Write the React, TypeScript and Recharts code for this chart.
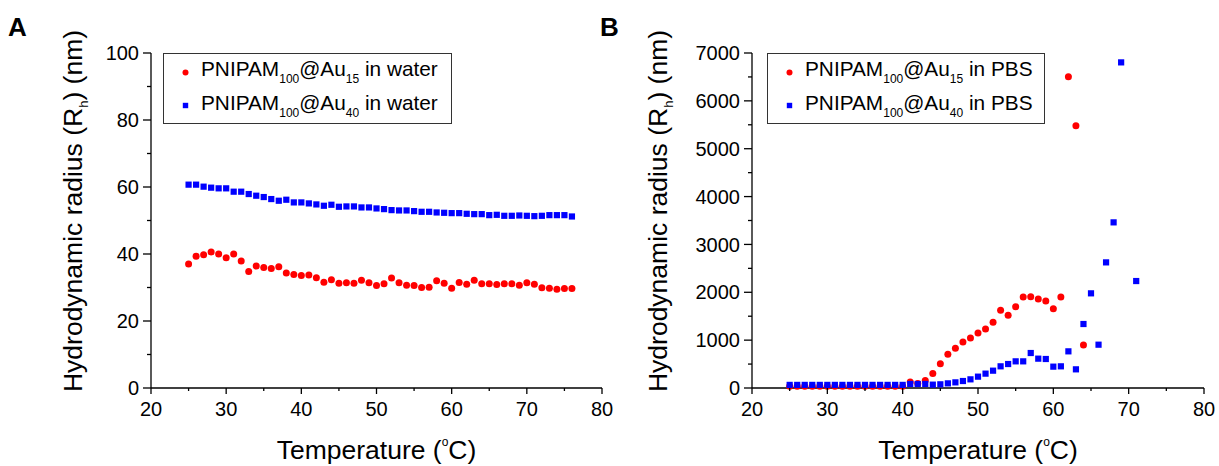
import React from 'react';
import { ScatterChart, Scatter, XAxis, YAxis, Legend } from 'recharts';

// ---------- data ----------
const tempWater = [25, 26, 27, 28, 29, 30, 31, 32, 33, 34, 35, 36, 37, 38, 39, 40, 41, 42, 43, 44, 45, 46, 47, 48, 49, 50, 51, 52, 53, 54, 55, 56, 57, 58, 59, 60, 61, 62, 63, 64, 65, 66, 67, 68, 69, 70, 71, 72, 73, 74, 75, 76];
const rhWaterAu15 = [37.0, 39.3, 39.8, 40.6, 40.0, 38.9, 40.0, 37.9, 34.8, 36.4, 36.0, 35.7, 36.2, 34.3, 33.9, 33.6, 33.7, 32.9, 31.6, 32.3, 31.3, 31.4, 31.3, 32.2, 31.4, 30.6, 31.1, 32.8, 31.4, 30.7, 30.6, 30.0, 30.1, 32.0, 31.3, 29.8, 31.5, 31.0, 32.2, 31.1, 31.1, 30.9, 31.1, 31.1, 30.7, 31.4, 31.0, 29.9, 29.8, 29.5, 29.7, 29.7];
const rhWaterAu40 = [60.7, 60.7, 60.1, 59.8, 59.6, 59.6, 58.6, 58.6, 57.9, 57.4, 57.0, 56.4, 55.9, 56.2, 55.4, 55.4, 55.1, 54.8, 54.4, 54.7, 54.1, 54.2, 54.2, 53.9, 53.9, 53.6, 53.4, 53.1, 53.0, 53.0, 52.8, 52.6, 52.6, 52.4, 52.3, 52.2, 52.2, 52.0, 51.9, 51.9, 51.6, 51.7, 51.4, 51.4, 51.5, 51.4, 51.3, 51.4, 51.6, 51.6, 51.6, 51.2];

const tempPbsAu15 = [25, 26, 27, 28, 29, 30, 31, 32, 33, 34, 35, 36, 37, 38, 39, 40, 41, 42, 43, 44, 45, 46, 47, 48, 49, 50, 51, 52, 53, 54, 55, 56, 57, 58, 59, 60, 61, 62, 63, 64];
const rhPbsAu15 = [35, 35, 35, 35, 35, 35, 35, 35, 35, 35, 35, 35, 35, 35, 35, 35, 125, 96, 159, 305, 508, 703, 829, 961, 1045, 1149, 1233, 1372, 1623, 1518, 1699, 1901, 1908, 1859, 1818, 1657, 1901, 6504, 5481, 898];

const tempPbsAu40 = [25, 26, 27, 28, 29, 30, 31, 32, 33, 34, 35, 36, 37, 38, 39, 40, 41, 42, 43, 44, 45, 46, 47, 48, 49, 50, 51, 52, 53, 54, 55, 56, 57, 58, 59, 60, 61, 62, 63, 64, 65, 66, 67, 68, 69, 71];
const rhPbsAu40 = [65, 65, 65, 65, 65, 65, 65, 65, 65, 65, 65, 65, 65, 65, 65, 65, 84, 84, 84, 70, 77, 97, 118, 146, 181, 237, 300, 362, 453, 501, 557, 557, 731, 613, 606, 446, 453, 766, 390, 1337, 1978, 905, 2625, 3461, 6804, 2235];

const xTicks = [20, 25, 30, 35, 40, 45, 50, 55, 60, 65, 70, 75, 80];
const yTicksWater = [0, 10, 20, 30, 40, 50, 60, 70, 80, 90, 100];
const yTicksPbs = [0, 500, 1000, 1500, 2000, 2500, 3000, 3500, 4000, 4500, 5000, 5500, 6000, 6500, 7000];

const legendWater = [
  { base: 'PNIPAM', sub1: '100', mid: '@Au', sub2: '15', tail: ' in water', color: '#ff0000', shape: 'circle' },
  { base: 'PNIPAM', sub1: '100', mid: '@Au', sub2: '40', tail: ' in water', color: '#0000ff', shape: 'square' },
];
const legendPbs = [
  { base: 'PNIPAM', sub1: '100', mid: '@Au', sub2: '15', tail: ' in PBS', color: '#ff0000', shape: 'circle' },
  { base: 'PNIPAM', sub1: '100', mid: '@Au', sub2: '40', tail: ' in PBS', color: '#0000ff', shape: 'square' },
];

// ---------- helpers ----------
const FONT = '"Liberation Sans", Arial, Helvetica, sans-serif';
const RED = '#ff0000';
const BLUE = '#0000ff';

const toPoints = (xs: number[], ys: number[]) => xs.map((t, i) => ({ t, r: ys[i] }));

const CircleShape = (props: any) => <circle cx={props.cx} cy={props.cy} r={3.5} fill={RED} />;
const SquareShape = (props: any) => <rect x={props.cx - 3.1} y={props.cy - 3.1} width={6.2} height={6.2} fill={BLUE} />;

const renderXTick = (props: any) => {
  const { x, y, payload } = props;
  const v = payload.value;
  const major = v % 10 === 0;
  return (
    <g>
      <line x1={x} x2={x} y1={y} y2={y + (major ? 6 : 3)} stroke="#000" strokeWidth={1.3} />
      {major && (
        <text x={x} y={y + 28} textAnchor="middle" fontSize={20} fontFamily={FONT} fill="#000">
          {v}
        </text>
      )}
    </g>
  );
};

const makeYTick = (step: number) => (props: any) => {
  const { x, y, payload } = props;
  const v = payload.value;
  const major = v % step === 0;
  return (
    <g>
      <line x1={x - (major ? 8 : 4)} x2={x} y1={y} y2={y} stroke="#000" strokeWidth={1.3} />
      {major && (
        <text x={x - 12} y={y} dy="0.36em" textAnchor="end" fontSize={20} fontFamily={FONT} fill="#000">
          {v}
        </text>
      )}
    </g>
  );
};

const yTitle = (bx: number, cy: number) => () => (
  <text
    x={bx}
    y={cy}
    transform={`rotate(-90 ${bx} ${cy})`}
    textAnchor="middle"
    fontSize={26.5}
    fontFamily={FONT}
    fill="#000"
  >
    Hydrodynamic radius (R<tspan fontSize={13} dy={6}>h</tspan>
    <tspan dy={-6}>) (nm)</tspan>
  </text>
);

const xTitle = (cx: number, by: number) => () => (
  <text x={cx} y={by} textAnchor="middle" fontSize={26.5} fontFamily={FONT} fill="#000">
    Temperature (<tspan fontSize={12} dy={-13}>o</tspan>
    <tspan dy={13}>C)</tspan>
  </text>
);

const LegendBox = ({ items, width }: { items: typeof legendWater; width: number }) => (
  <div
    style={{
      boxSizing: 'border-box',
      width,
      height: 71,
      border: '1.3px solid #333',
      background: '#fff',
      paddingLeft: 18,
      fontFamily: FONT,
      fontSize: 20.8,
      color: '#000',
    }}
  >
    {items.map((it, i) => (
      <div key={i} style={{ display: 'flex', alignItems: 'center', height: 33.5, lineHeight: '33.5px', whiteSpace: 'nowrap' }}>
        <svg width={7} height={7} style={{ marginTop: 3, flex: 'none' }}>
          {it.shape === 'circle' ? (
            <circle cx={3.5} cy={3.5} r={3} fill={it.color} />
          ) : (
            <rect x={0.8} y={0.8} width={5.4} height={5.4} fill={it.color} />
          )}
        </svg>
        <span style={{ marginLeft: 12 }}>
          {it.base}
          <span style={{ fontSize: 12, position: 'relative', top: 7 }}>{it.sub1}</span>
          {it.mid}
          <span style={{ fontSize: 12, position: 'relative', top: 7 }}>{it.sub2}</span>
          {it.tail}
        </span>
      </div>
    ))}
  </div>
);

const axisLineStyle = { stroke: '#000', strokeWidth: 1.3 };

export default function App() {
  const water15 = toPoints(tempWater, rhWaterAu15);
  const water40 = toPoints(tempWater, rhWaterAu40);
  const pbs15 = toPoints(tempPbsAu15, rhPbsAu15);
  const pbs40 = toPoints(tempPbsAu40, rhPbsAu40);

  const letterStyle: React.CSSProperties = {
    position: 'absolute',
    top: 14,
    fontFamily: FONT,
    fontWeight: 'bold',
    fontSize: 26,
    lineHeight: '26px',
    color: '#000',
  };

  return (
    <div style={{ position: 'absolute', left: 0, top: 0, width: 1219, height: 466, background: '#fff', overflow: 'hidden' }}>
      <div style={{ ...letterStyle, left: 8 }}>A</div>
      <div style={{ ...letterStyle, left: 600 }}>B</div>

      <div style={{ position: 'absolute', left: 0, top: 0 }}>
        <ScatterChart width={620} height={466} margin={{ top: 53, right: 18, bottom: 18, left: 71 }}>
          <XAxis
            type="number"
            dataKey="t"
            domain={[20, 80]}
            ticks={xTicks}
            interval={0}
            tickSize={0}
            tickMargin={0}
            tickLine={false}
            axisLine={axisLineStyle}
            height={60}
            tick={renderXTick}
            label={{ content: xTitle(376.5, 459) }}
          />
          <YAxis
            type="number"
            dataKey="r"
            domain={[0, 100]}
            ticks={yTicksWater}
            interval={0}
            tickSize={0}
            tickMargin={0}
            tickLine={false}
            axisLine={axisLineStyle}
            width={80}
            tick={makeYTick(20)}
            label={{ content: yTitle(82, 211) }}
          />
          <Legend
            layout="vertical"
            align="center"
            verticalAlign="middle"
            wrapperStyle={{ left: 163, top: 53, width: 289, height: 71 }}
            content={() => <LegendBox items={legendWater} width={289} />}
          />
          <Scatter name="Au15 water" data={water15} shape={CircleShape} isAnimationActive={false} />
          <Scatter name="Au40 water" data={water40} shape={SquareShape} isAnimationActive={false} />
        </ScatterChart>
      </div>

      <div style={{ position: 'absolute', left: 600, top: 0 }}>
        <ScatterChart width={619} height={466} margin={{ top: 53, right: 15, bottom: 18, left: 72 }}>
          <XAxis
            type="number"
            dataKey="t"
            domain={[20, 80]}
            ticks={xTicks}
            interval={0}
            tickSize={0}
            tickMargin={0}
            tickLine={false}
            axisLine={axisLineStyle}
            height={60}
            tick={renderXTick}
            label={{ content: xTitle(378, 459) }}
          />
          <YAxis
            type="number"
            dataKey="r"
            domain={[0, 7000]}
            ticks={yTicksPbs}
            interval={0}
            tickSize={0}
            tickMargin={0}
            tickLine={false}
            axisLine={axisLineStyle}
            width={80}
            tick={makeYTick(1000)}
            label={{ content: yTitle(67, 211) }}
          />
          <Legend
            layout="vertical"
            align="center"
            verticalAlign="middle"
            wrapperStyle={{ left: 167, top: 53, width: 278, height: 71 }}
            content={() => <LegendBox items={legendPbs} width={278} />}
          />
          <Scatter name="Au15 PBS" data={pbs15} shape={CircleShape} isAnimationActive={false} />
          <Scatter name="Au40 PBS" data={pbs40} shape={SquareShape} isAnimationActive={false} />
        </ScatterChart>
      </div>
    </div>
  );
}
